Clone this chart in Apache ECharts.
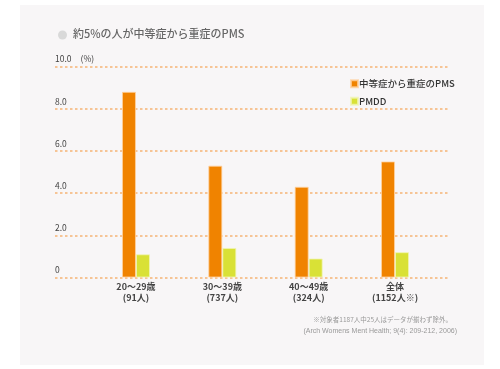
<!DOCTYPE html>
<html>
<head>
<meta charset="utf-8">
<script src="https://cdn.jsdelivr.net/npm/echarts@6/dist/echarts.min.js"></script>
<style>html,body{margin:0;padding:0;background:#fff;}#c{width:500px;height:369px;}</style>
</head>
<body>
<div id="c"></div>
<script>
const categories = ['20～29歳\n(91人)', '30～39歳\n(737人)', '40～49歳\n(324人)', '全体\n(1152人※)'];
const pmsValues = [8.8, 5.3, 4.3, 5.5];
const pmddValues = [1.1, 1.4, 0.9, 1.2];
const seriesNames = ['中等症から重症のPMS', 'PMDD'];
const titleText = '約5%の人が中等症から重症のPMS';
const note1 = '※対象者1187人中25人はデータが揃わず除外。';
const note2 = '(Arch Womens Ment Health; 9(4): 209-212, 2006)';

const FONT = '"Noto Sans CJK JP", "Noto Sans", sans-serif';
const chart = echarts.init(document.getElementById('c'), null, {renderer: 'canvas'});
const gridTop = 66.5, gridBottom = 91.5;
chart.setOption({
  backgroundColor: '#ffffff',
  animation: false,
  textStyle: {fontFamily: FONT},
  graphic: [
    {type: 'rect', z: -10, shape: {x: 20, y: 5, width: 464, height: 360}, style: {fill: '#f8f6f7'}},
    {type: 'circle', shape: {cx: 62.5, cy: 35, r: 4.5}, style: {fill: '#d9d9d9'}},
    {type: 'text', left: 73, top: 28, style: {text: titleText, fontSize: 11, fontFamily: FONT, fill: '#666666', fontWeight: 500}},
    {type: 'text', right: 48, top: 316, style: {text: note1, fontSize: 6.5, fontFamily: FONT, fill: '#999999', textAlign: 'right'}},
    {type: 'text', right: 43, top: 328, style: {text: note2, fontSize: 7, fontFamily: '"Liberation Sans", sans-serif', fill: '#999999', textAlign: 'right'}}
  ],
  legend: {
    orient: 'vertical', left: 345, top: 74, itemWidth: 7, itemHeight: 7, itemGap: 8,
    icon: 'rect',
    textStyle: {fontSize: 9.5, fontWeight: 500, color: '#333333', padding: [0, 0, 0, -4]},
    data: seriesNames
  },
  grid: [
    {left: 55, right: 52, top: gridTop, bottom: gridBottom},
    {left: 92.8, right: 61.8, top: gridTop, bottom: gridBottom}
  ],
  xAxis: [
    {type: 'category', gridIndex: 0, data: categories, show: false},
    {type: 'category', gridIndex: 1, data: categories,
     axisLine: {show: false}, axisTick: {show: false},
     axisLabel: {fontSize: 9, fontWeight: 'bold', color: '#444444', lineHeight: 11, margin: 4}}
  ],
  yAxis: [
    {type: 'value', gridIndex: 0, min: 0, max: 10, interval: 2,
     axisLine: {show: false}, axisTick: {show: false},
     splitLine: {show: true, lineStyle: {color: '#f5b476', width: 1.5, type: [2.5, 2.5]}},
     axisLabel: {
       inside: true, margin: 0, align: 'left', verticalAlign: 'bottom', fontSize: 8.5, color: '#444444', padding: [0, 0, 3, 0],
       formatter: function (v) { return v === 10 ? '{a|10.0}{b|(%)}' : (v === 0 ? '0' : v.toFixed(1)); },
       rich: {a: {fontSize: 8.5, color: '#444444'}, b: {fontSize: 8.5, color: '#444444', padding: [0, 0, 0, 9]}}
     }},
    {type: 'value', gridIndex: 1, min: 0, max: 10, interval: 2, show: false, splitLine: {show: false}}
  ],
  series: [
    {name: seriesNames[0], type: 'bar', xAxisIndex: 1, yAxisIndex: 1, data: pmsValues, barWidth: 14, barGap: '0%',
     itemStyle: {color: '#f08300', borderColor: 'rgba(255,210,160,0.8)', borderWidth: 1}},
    {name: seriesNames[1], type: 'bar', xAxisIndex: 1, yAxisIndex: 1, data: pmddValues, barWidth: 14, barGap: '0%',
     itemStyle: {color: '#d9e136', borderColor: 'rgba(240,245,180,0.8)', borderWidth: 1}}
  ]
});
</script>
</body>
</html>
